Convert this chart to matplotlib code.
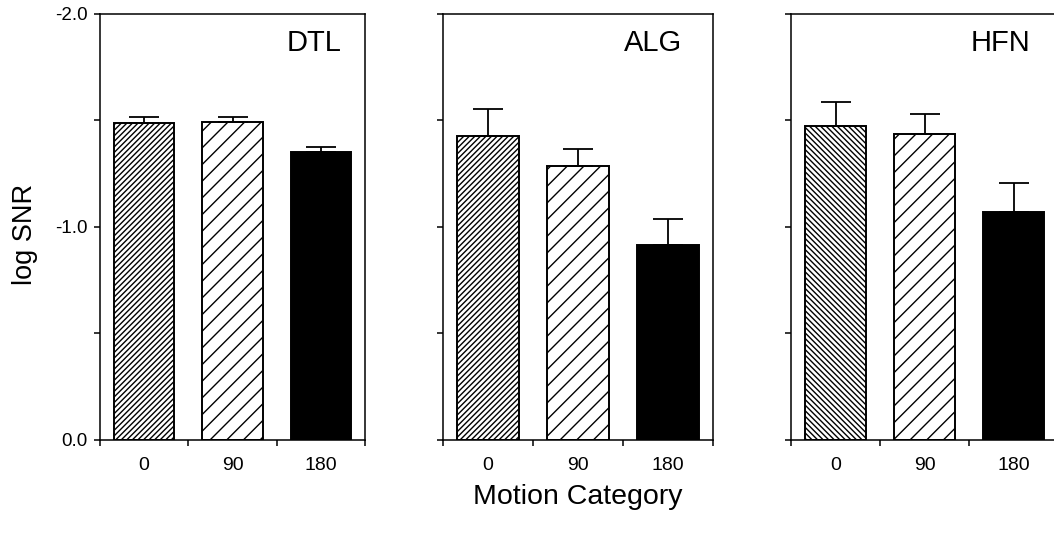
import numpy as np
import matplotlib
matplotlib.use("Agg")
import matplotlib.pyplot as plt

plt.rcParams['font.family'] = ['Liberation Sans', 'DejaVu Sans']
plt.rcParams['hatch.linewidth'] = 1.0

# Data (log SNR, negative values, axis inverted)
categories = ["0", "90", "180"]
panels = ["DTL", "ALG", "HFN"]
means = {
    "DTL": [-1.49, -1.494, -1.352],
    "ALG": [-1.429, -1.285, -0.914],
    "HFN": [-1.473, -1.437, -1.07],
}
errors = {
    "DTL": [0.025, 0.02, 0.025],
    "ALG": [0.123, 0.082, 0.125],
    "HFN": [0.114, 0.092, 0.136],
}
hatches = {
    "DTL": ["//////", "//", None],
    "ALG": ["//////", "//", None],
    "HFN": ["\\\\\\\\\\\\", "//", None],
}
label_x = {"DTL": 0.91, "ALG": 0.885, "HFN": 0.895}

fig = plt.figure(figsize=(10.54, 5.40), dpi=100)

# axes boxes in figure fraction [left, bottom, width, height]
boxes = [
    [0.0949, 0.1852, 0.2514, 0.789],
    [0.4203, 0.1852, 0.2562, 0.789],
    [0.7505, 0.1852, 0.2533, 0.789],
]

x = np.arange(len(categories))
for i, name in enumerate(panels):
    ax = fig.add_axes(boxes[i])
    vals = means[name]
    errs = errors[name]
    for j in range(len(categories)):
        h = hatches[name][j]
        ax.bar(x[j], vals[j], width=0.68,
               color="black" if h is None else "white",
               edgecolor="black", linewidth=1.4, hatch=h, zorder=2)
    ax.errorbar(x, vals, yerr=[errs, np.zeros(len(errs))], fmt="none",
                ecolor="black", elinewidth=1.3, capsize=10.5, capthick=1.3,
                zorder=3)

    ax.set_xlim(-0.5, 2.5)
    ax.set_ylim(0.0, -2.0)

    ax.set_xticks(x)
    ax.set_xticklabels(categories, fontsize=14)
    ax.set_xticks([-0.5, 0.5, 1.5, 2.5], minor=True)
    ax.tick_params(axis="x", which="major", length=0, pad=12)
    ax.tick_params(axis="x", which="minor", length=4, width=1.1, direction="out")

    ax.set_yticks([-2.0, -1.5, -1.0, -0.5, 0.0])
    if i == 0:
        ax.set_yticklabels(["-2.0", "", "-1.0", "", "0.0"], fontsize=13.5)
    else:
        ax.set_yticklabels([])
    ax.tick_params(axis="y", length=4, width=1.1, direction="out", pad=5)

    for s in ax.spines.values():
        s.set_linewidth(1.1)

    ax.text(label_x[name], 0.932, name, transform=ax.transAxes,
            ha="right", va="center", fontsize=21)

fig.text(25 / 1054, 0.565, "log SNR", rotation=90, ha="center", va="center",
         fontsize=19.5)
fig.text(578 / 1054, 1 - 497 / 540, "Motion Category", ha="center",
         va="center", fontsize=20.5)

fig.savefig("out.png", dpi=100)
